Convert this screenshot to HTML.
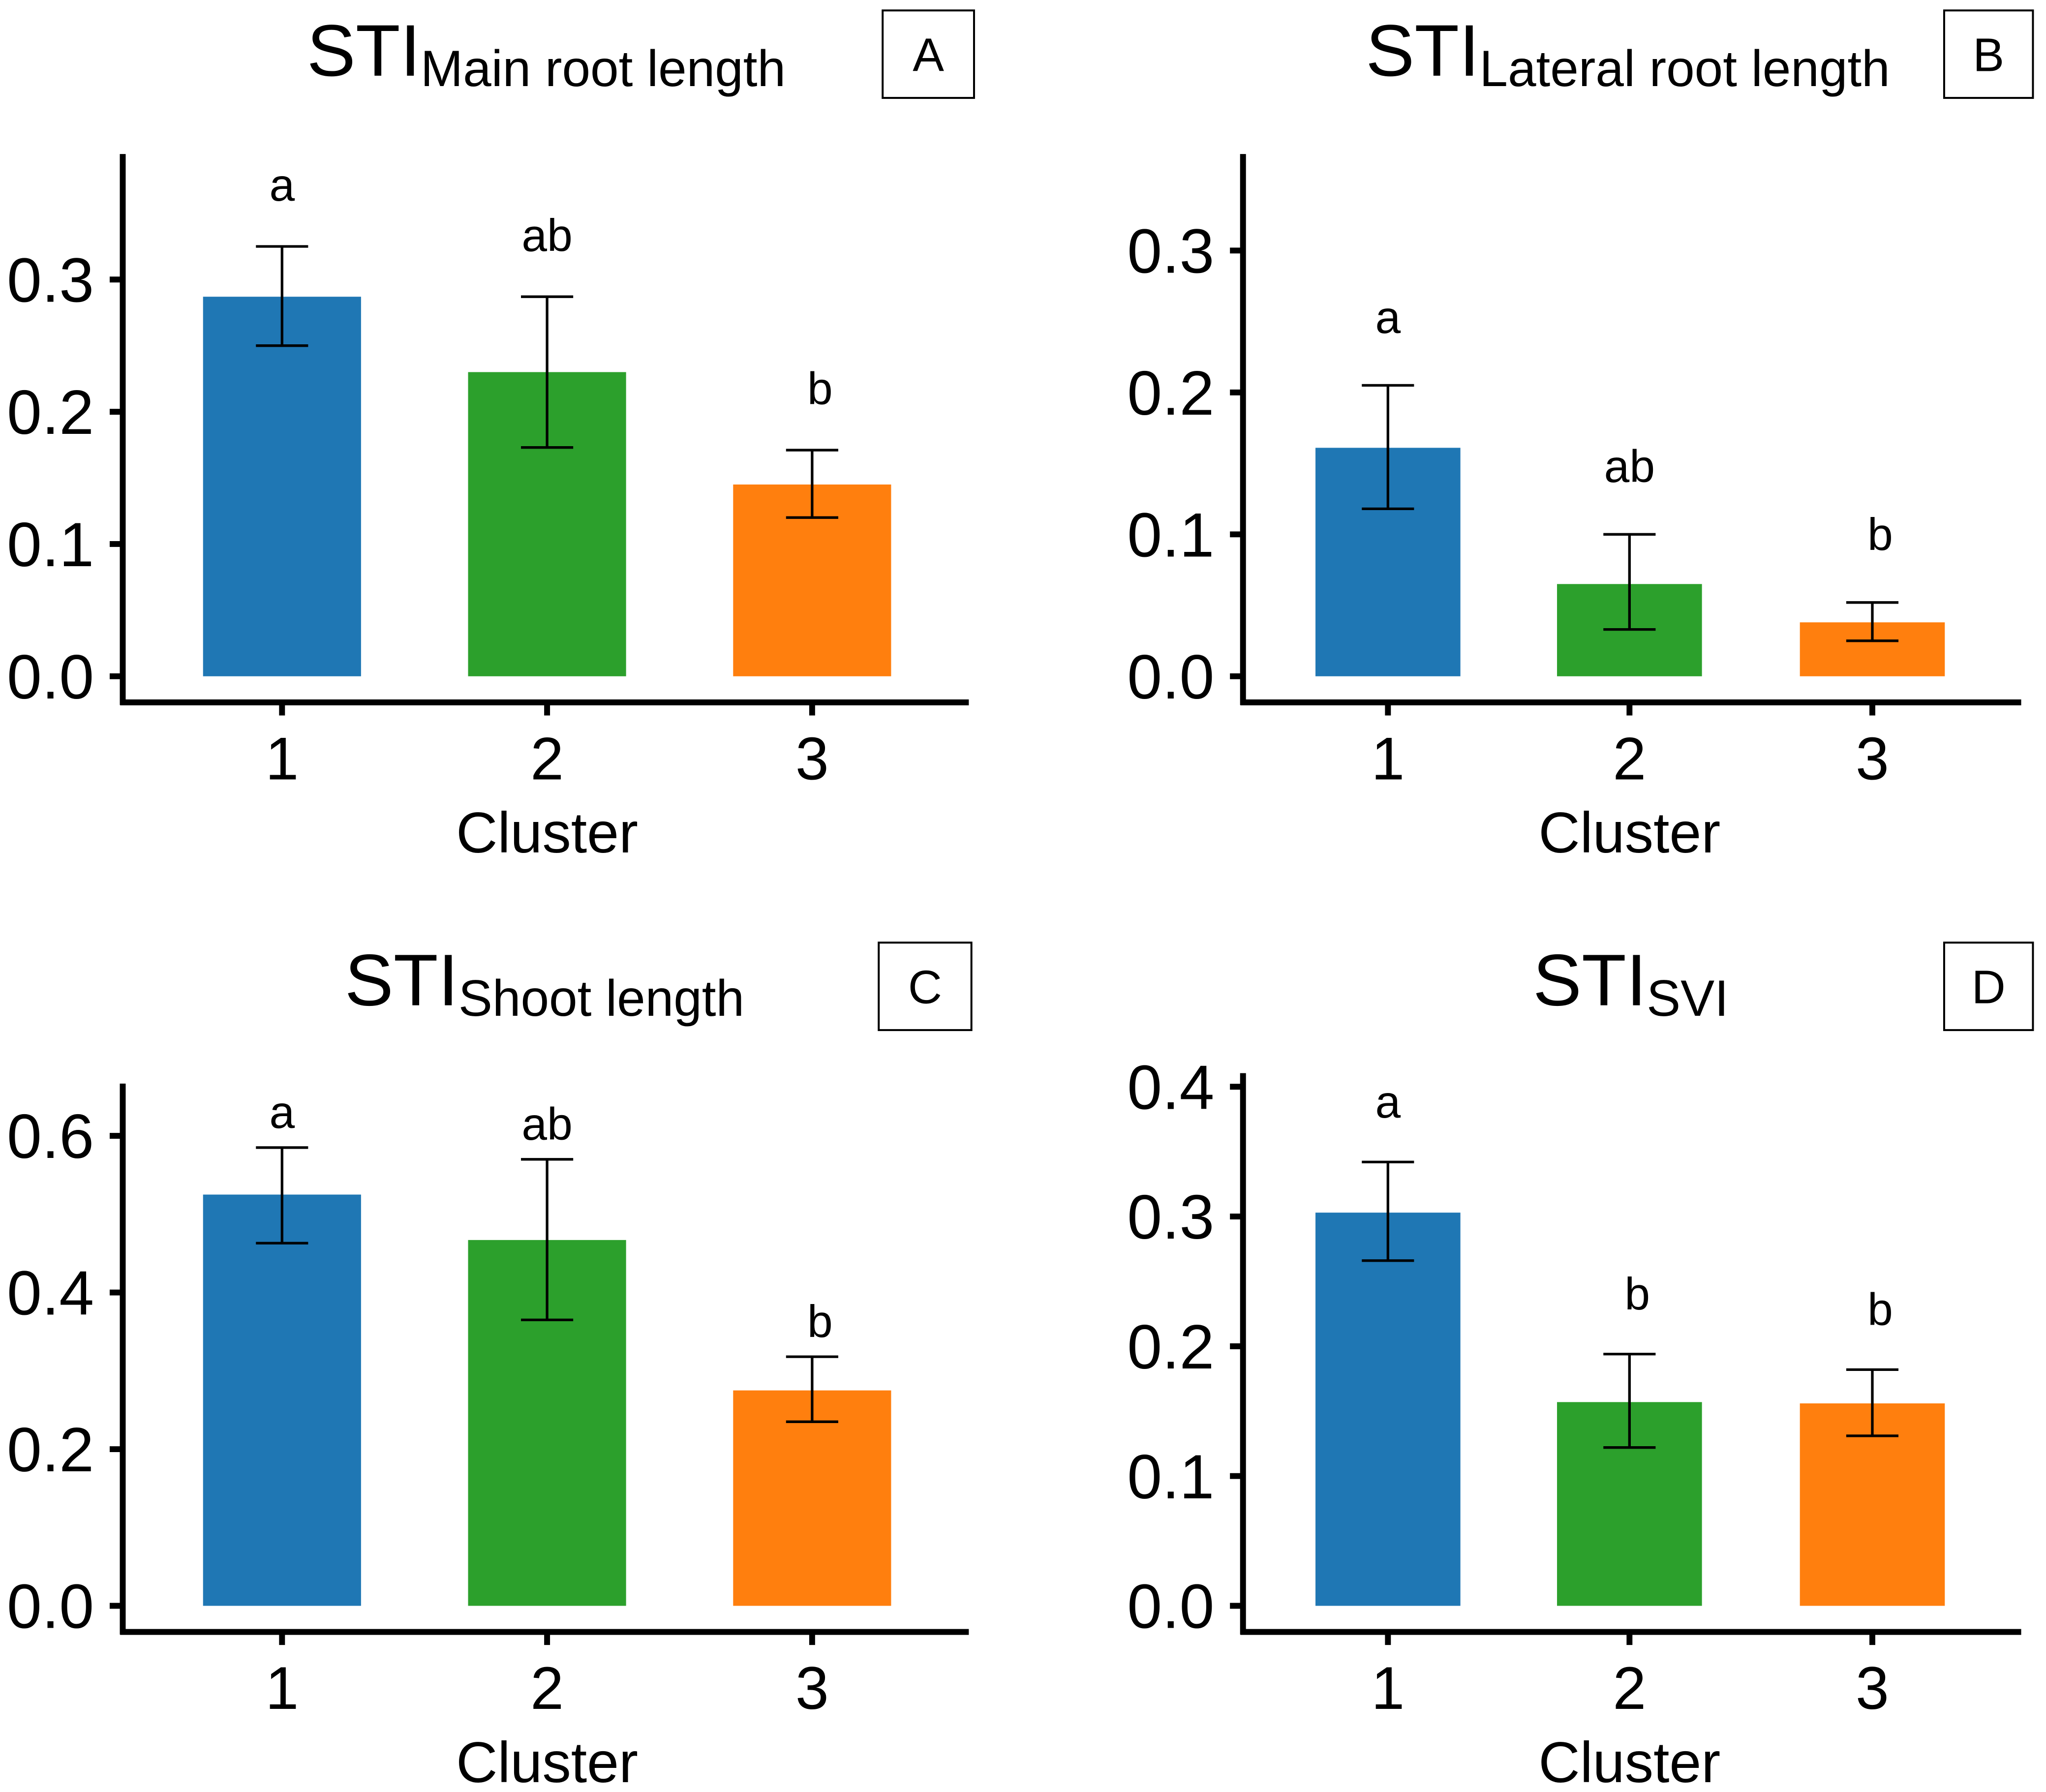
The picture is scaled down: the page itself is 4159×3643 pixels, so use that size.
<!DOCTYPE html>
<html><head><meta charset="utf-8"><style>
html,body{margin:0;padding:0;background:#fff}
svg{display:block;font-family:"Liberation Sans",Arial,sans-serif}
</style></head><body>
<svg id="fig" width="4159" height="3643" viewBox="0 0 1567 1372.6" xmlns="http://www.w3.org/2000/svg">
<rect width="1567" height="1372.6" fill="#fff"/>
</svg>
<script>
const categories = ["1","2","3"];
const colors = ["#1f77b4","#2ca02c","#ff7f0e"];
const valuesA = [0.287,0.230,0.145];
const lowA = [0.250,0.173,0.120];
const highA = [0.325,0.287,0.171];
const lettersA = ["a","ab","b"];
const ticksA = [0.0,0.1,0.2,0.3];
const valuesB = [0.161,0.065,0.038];
const lowB = [0.118,0.033,0.025];
const highB = [0.205,0.100,0.052];
const lettersB = ["a","ab","b"];
const ticksB = [0.0,0.1,0.2,0.3];
const valuesC = [0.525,0.467,0.275];
const lowC = [0.463,0.365,0.235];
const highC = [0.585,0.570,0.318];
const lettersC = ["a","ab","b"];
const ticksC = [0.0,0.2,0.4,0.6];
const valuesD = [0.303,0.157,0.156];
const lowD = [0.266,0.122,0.131];
const highD = [0.342,0.194,0.182];
const lettersD = ["a","b","b"];
const ticksD = [0.0,0.1,0.2,0.3,0.4];

const NS="http://www.w3.org/2000/svg";
const svg=document.getElementById('fig');
function mk(tag,attrs,parent,text){const e=document.createElementNS(NS,tag);for(const k in attrs)e.setAttribute(k,attrs[k]);if(text!==undefined)e.textContent=text;(parent||svg).appendChild(e);return e;}

const panels=[
 {id:'a',ax:94,axTop:118,y0:518,pxPer:1013,xs:[216,419,622],bw:121,axRight:742,vals:valuesA,lo:lowA,hi:highA,let:lettersA,ticks:ticksA,letOff:47,title:"STI",sub:"Main root length",tx:235,ty:58,box:[676,8,70,67],lab:"A"},
 {id:'b',ax:952,axTop:118,y0:518,pxPer:1087,xs:[1063,1248,1434],bw:111,axRight:1548,vals:valuesB,lo:lowB,hi:highB,let:lettersB,ticks:ticksB,letOff:52,title:"STI",sub:"Lateral root length",tx:1046,ty:58,box:[1489,8,68,67],lab:"B"},
 {id:'c',ax:94,axTop:830,y0:1230,pxPer:600,xs:[216,419,622],bw:121,axRight:742,vals:valuesC,lo:lowC,hi:highC,let:lettersC,ticks:ticksC,letOff:27,title:"STI",sub:"Shoot length",tx:264,ty:770,box:[673,722,71,67],lab:"C"},
 {id:'d',ax:952,axTop:822,y0:1230,pxPer:994,xs:[1063,1248,1434],bw:111,axRight:1548,vals:valuesD,lo:lowD,hi:highD,let:lettersD,ticks:ticksD,letOff:46,title:"STI",sub:"SVI",tx:1174,ty:770,box:[1489,722,68,67],lab:"D"}
];

panels.forEach(p=>{
 const g=mk('g',{});
 
 
 const y=v=>p.y0-v*p.pxPer;
 const xAxisY=p.y0+20;
 const t=mk('text',{x:p.tx,y:p.ty,'font-size':56},g);
 
 
 mk('tspan',{},t,p.title);
 mk('tspan',{'font-size':39,dy:8},t,p.sub);
 const bx=mk('rect',{x:p.box[0],y:p.box[1],width:p.box[2],height:p.box[3],fill:'#fff',stroke:'#000','stroke-width':1.5},g);
 
 
 const bl=mk('text',{x:p.box[0]+p.box[2]/2,y:p.box[1]+p.box[3]/2+13,'font-size':36,'text-anchor':'middle'},g,p.lab);
 
 
 p.vals.forEach((v,i)=>{
  const r=mk('rect',{x:p.xs[i]-p.bw/2,y:y(v),width:p.bw,height:p.y0-y(v),fill:colors[i]},g);
  
  
  const eg=mk('g',{stroke:'#000','stroke-width':2},g);
  
  
  mk('line',{x1:p.xs[i],x2:p.xs[i],y1:y(p.hi[i]),y2:y(p.lo[i])},eg);
  mk('line',{x1:p.xs[i]-20,x2:p.xs[i]+20,y1:y(p.hi[i]),y2:y(p.hi[i])},eg);
  mk('line',{x1:p.xs[i]-20,x2:p.xs[i]+20,y1:y(p.lo[i]),y2:y(p.lo[i])},eg);
  const lt=mk('text',{x:p.xs[i]+(p.let[i]==='b'?6:0),y:y(p.hi[i])-p.letOff+12,'font-size':35,'text-anchor':'middle'},g,p.let[i]);
  
  
 });
 const ya=mk('line',{x1:p.ax,x2:p.ax,y1:p.axTop,y2:xAxisY+2,stroke:'#000','stroke-width':4.5},g);
 
 
 const xa=mk('line',{x1:p.ax-2,x2:p.axRight,y1:xAxisY,y2:xAxisY,stroke:'#000','stroke-width':4.5},g);
 
 
 p.ticks.forEach(tv=>{
  mk('line',{x1:p.ax-10,x2:p.ax,y1:y(tv),y2:y(tv),stroke:'#000','stroke-width':4.5},g);
  const tl=mk('text',{x:p.ax-22,y:y(tv)+17,'font-size':48,'text-anchor':'end'},g,tv.toFixed(1));
  
  
 });
 categories.forEach((c,i)=>{
  mk('line',{x1:p.xs[i],x2:p.xs[i],y1:xAxisY,y2:xAxisY+10,stroke:'#000','stroke-width':4.5},g);
  const xl=mk('text',{x:p.xs[i],y:xAxisY+59,'font-size':46,'text-anchor':'middle'},g,c);
  
  
 });
 const xt=mk('text',{x:p.xs[1],y:xAxisY+115,'font-size':44,'text-anchor':'middle'},g,'Cluster');
 
 
});
</script>
</body></html>
